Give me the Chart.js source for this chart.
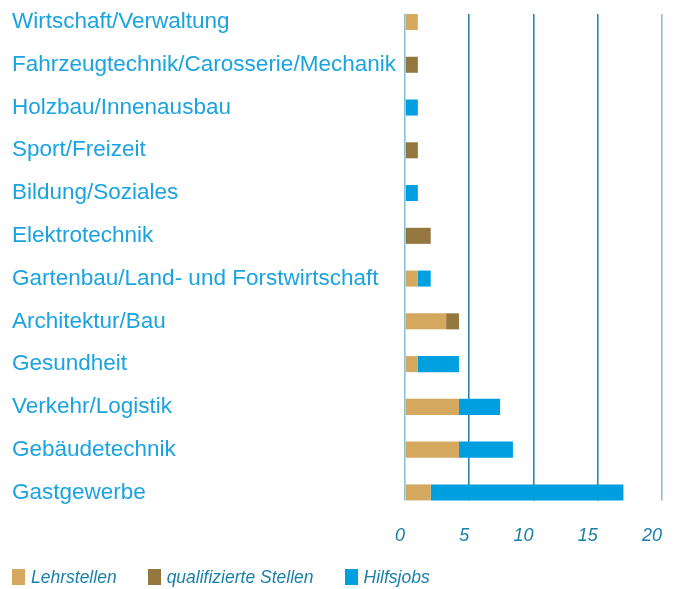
<!DOCTYPE html>
<html>
<head>
<meta charset="utf-8">
<script src="https://cdn.jsdelivr.net/npm/chart.js@4/dist/chart.umd.min.js"></script>
<style>
html,body{margin:0;padding:0;background:#fff;}
#wrap{width:678px;height:589px;position:relative;overflow:hidden;}
#legend{position:absolute;left:12px;top:567px;height:20px;display:flex;align-items:center;
  font-family:'Liberation Sans', Arial, sans-serif;font-size:17.5px;font-style:italic;color:#1a80aa;white-space:nowrap;}
#legend .item{display:flex;align-items:center;margin-right:31px;}
#legend .box{width:13px;height:16px;margin-right:6px;}
</style>
</head>
<body>
<div id="wrap"><canvas id="c" width="678" height="589"></canvas><div id="legend"></div></div>
<script>
const categories = [
  "Wirtschaft/Verwaltung",
  "Fahrzeugtechnik/Carosserie/Mechanik",
  "Holzbau/Innenausbau",
  "Sport/Freizeit",
  "Bildung/Soziales",
  "Elektrotechnik",
  "Gartenbau/Land- und Forstwirtschaft",
  "Architektur/Bau",
  "Gesundheit",
  "Verkehr/Logistik",
  "Gebäudetechnik",
  "Gastgewerbe"
];
const seriesNames = ["Lehrstellen", "qualifizierte Stellen", "Hilfsjobs"];
const lehrstellen = [1, 0, 0, 0, 0, 0, 1, 3.2, 1, 4.2, 4.2, 2];
const qualifizierte = [0, 1, 0, 1, 0, 2, 0, 1, 0, 0, 0, 0];
const hilfsjobs = [0, 0, 1, 0, 1, 0, 1, 0, 3.2, 3.2, 4.2, 15];
const xTicks = [0, 5, 10, 15, 20];

const colors = ["#d4a95f", "#93773f", "#00a0e0"];
const labelFont = "'Liberation Sans', Arial, sans-serif";

const lightLine = "#86c3da";
const darkLine = "#2a86ab";
function gridColor(ctx) {
  const v = ctx.tick ? ctx.tick.value : null;
  return (v === 0 || v === 20) ? lightLine : darkLine;
}

const chart = new Chart(document.getElementById('c'), {
  type: 'bar',
  data: {
    labels: categories,
    datasets: [
      { label: seriesNames[0], data: lehrstellen, backgroundColor: colors[0] },
      { label: seriesNames[1], data: qualifizierte, backgroundColor: colors[1] },
      { label: seriesNames[2], data: hilfsjobs, backgroundColor: colors[2] }
    ]
  },
  options: {
    indexAxis: 'y',
    responsive: false,
    animation: false,
    datasets: { bar: { barPercentage: 0.375, categoryPercentage: 1.0, borderWidth: 0, clip: false } },
    layout: { padding: { left: 12, right: 16, top: 14, bottom: 17 } },
    plugins: {
      tooltip: { enabled: false },
      legend: { display: false }
    },
    scales: {
      x: {
        type: 'linear',
        stacked: true,
        min: 0,
        max: 20,
        afterBuildTicks: (s) => { s.ticks = xTicks.map(v => ({ value: v })); },
        afterFit: (s) => { s.paddingRight = 0; s.paddingLeft = 0; },
        grid: { color: gridColor, lineWidth: 1.6, drawTicks: true, tickLength: 8, tickColor: gridColor },
        border: { display: false },
        ticks: {
          align: 'end',
          padding: 25,
          color: '#1a80aa',
          font: { family: labelFont, size: 18, style: 'italic' }
        }
      },
      x2: {
        type: 'linear',
        position: 'top',
        min: 0,
        max: 20,
        afterBuildTicks: (s) => { s.ticks = xTicks.map(v => ({ value: v })); },
        afterFit: (s) => { s.paddingRight = 0; s.paddingLeft = 0; },
        grid: { drawOnChartArea: false, drawTicks: true, tickLength: 8, tickColor: gridColor, lineWidth: 1.6, color: gridColor },
        border: { display: false },
        ticks: { display: false }
      },
      y: {
        type: 'category',
        stacked: true,
        offset: false,
        grid: { display: false },
        border: { display: false },
        afterFit: (s) => { s.width = 393; },
        ticks: {
          crossAlign: 'far',
          padding: 0,
          color: '#1aa3e0',
          font: { family: labelFont, size: 22.5 }
        }
      }
    }
  }
});

// HTML legend built from the chart's datasets
const legendEl = document.getElementById('legend');
chart.data.datasets.forEach(ds => {
  const item = document.createElement('div');
  item.className = 'item';
  const box = document.createElement('span');
  box.className = 'box';
  box.style.background = ds.backgroundColor;
  const txt = document.createElement('span');
  txt.textContent = ds.label;
  item.appendChild(box);
  item.appendChild(txt);
  legendEl.appendChild(item);
});
</script>
</body>
</html>
